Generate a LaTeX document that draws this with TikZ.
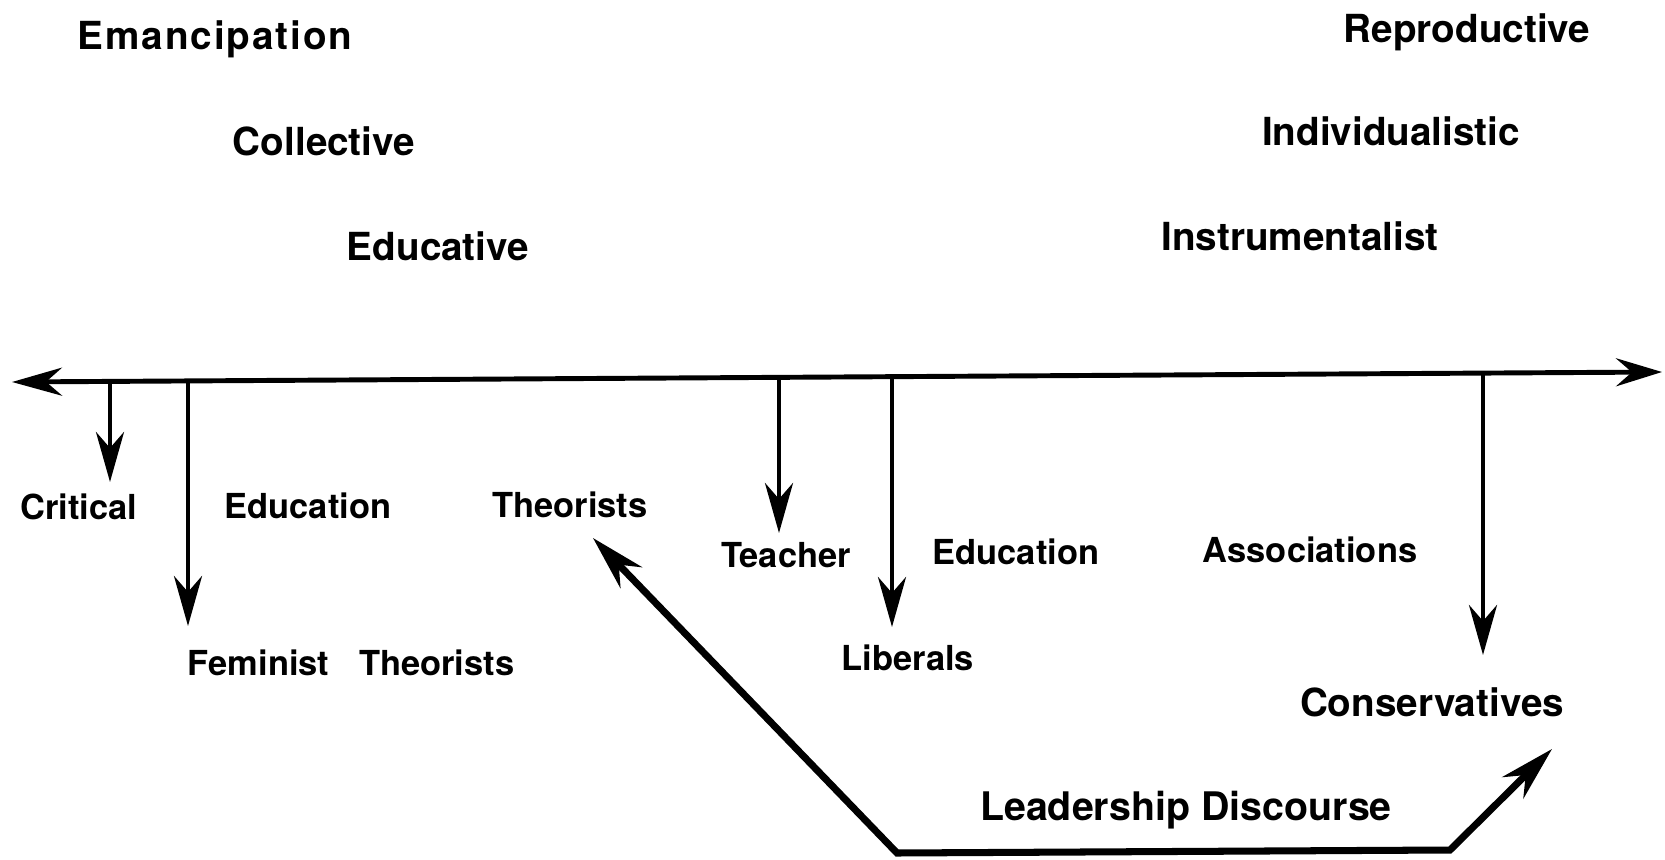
\documentclass[tikz,border=0pt]{standalone}
\usepackage{fontspec}
\setmainfont{TeX Gyre Heros}
\usetikzlibrary{arrows.meta}
\tikzset{
  pole/.style={font=\fontsize{11}{13}\selectfont\bfseries, anchor=base, inner sep=0pt},
  group/.style={font=\fontsize{9.8}{12}\selectfont\bfseries, anchor=base, inner sep=0pt},
  drop/.style={line width=1.4pt, -{Stealth[length=5mm,width=2.8mm,inset=1.6mm]}},
}
\begin{document}
\begin{tikzpicture}
    \useasboundingbox (0,0) rectangle (16.65,-8.60);

    % Poles above the axis
    \node[pole] (emanc) at (2.15,-0.50) {\addfontfeature{LetterSpace=5}Emancipation};
    \node[pole] (coll) at (3.24,-1.55) {Collective};
    \node[pole] (educ) at (4.38,-2.60) {Educative};
    \node[pole] (repro) at (14.67,-0.42) {Reproductive};
    \node[pole] (indiv) at (13.91,-1.45) {Individualistic};
    \node[pole] (instr) at (13.00,-2.50) {Instrumentalist};

    % Axis
    \coordinate (axL) at (0.12,-3.82);
    \coordinate (axR) at (16.62,-3.72);
    \draw[line width=1.4pt, {Stealth[length=5mm,width=2.8mm,inset=1.6mm]}-{Stealth[length=4.6mm,width=2.8mm,inset=1.6mm]}] (axL) -- (axR);

    % Groups below the axis
    \node[group] (crit) at (0.79,-5.19) {Critical};
    \node[group] (critEdu) at (3.08,-5.18) {Education};
    \node[group] (critTheo) at (5.70,-5.17) {Theorists};
    \node[group] (teach) at (7.86,-5.67) {Teacher};
    \node[group] (teachEdu) at (10.16,-5.64) {Education};
    \node[group] (assoc) at (13.10,-5.62) {Associations};
    \node[group] (fem) at (3.51,-6.75) {Feminist\hspace{0.3cm}Theorists};
    \node[group] (lib) at (9.08,-6.70) {Liberals};
    \node[pole] (cons) at (14.32,-7.16) {Conservatives};
    \node[pole] (lead) at (11.86,-8.20) {\fontsize{11.2}{13}\selectfont Leadership Discourse};

    % Drops from the axis
    \coordinate (aCrit) at (1.10,-3.81);
    \coordinate (eCrit) at (1.10,-4.82);
    \coordinate (aFem) at (1.88,-3.81);
    \coordinate (eFem) at (1.88,-6.26);
    \coordinate (aTeach) at (7.79,-3.77);
    \coordinate (eTeach) at (7.79,-5.33);
    \coordinate (aLib) at (8.92,-3.77);
    \coordinate (eLib) at (8.92,-6.27);
    \coordinate (aCons) at (14.83,-3.73);
    \coordinate (eCons) at (14.83,-6.55);
    \draw[drop] (aCrit) -- (eCrit);
    \draw[drop] (aFem) -- (eFem);
    \draw[drop] (aTeach) -- (eTeach);
    \draw[drop] (aLib) -- (eLib);
    \draw[drop] (aCons) -- (eCons);

    % Discourse link between theorists and conservatives
    \coordinate (dTheo) at (5.93,-5.38);
    \coordinate (dL) at (8.97,-8.53);
    \coordinate (dR) at (14.50,-8.50);
    \coordinate (dCons) at (15.52,-7.49);
    \draw[line width=2pt, {Stealth[length=5.5mm,width=3mm,inset=1.8mm]}-{Stealth[length=5.5mm,width=3mm,inset=1.8mm]}] (dTheo) -- (dL) -- (dR) -- (dCons);
\end{tikzpicture}
\end{document}
